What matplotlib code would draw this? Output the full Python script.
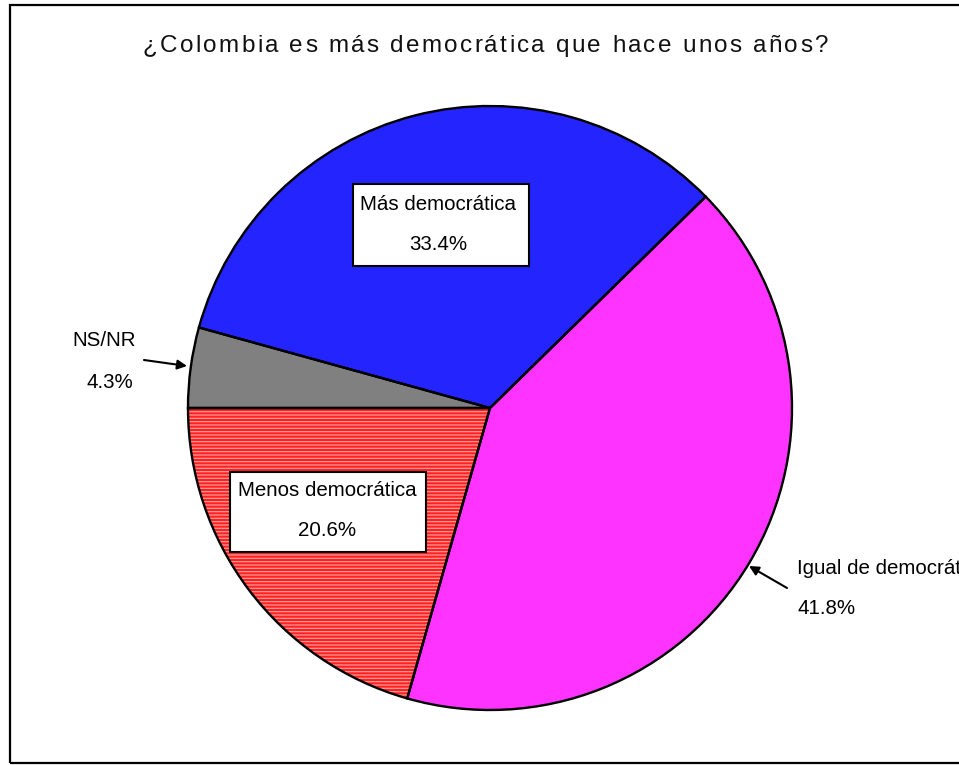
import matplotlib
matplotlib.use("Agg")
import matplotlib.pyplot as plt
from matplotlib.patches import Rectangle
from matplotlib import font_manager, ft2font

# datos de la encuesta
etiquetas = ["NS/NR", "Más democrática", "Igual de democrática", "Menos democrática"]
valores = [4.3, 33.4, 41.8, 20.6]
colores = ["#808080", "#2424ff", "#ff33ff", "#ff2020"]
titulo = "¿Colombia es más democrática que hace unos años?"

W, H = 959, 765
plt.rcParams["font.family"] = ["Liberation Sans", "DejaVu Sans"]
plt.rcParams["hatch.linewidth"] = 0.9

fig = plt.figure(figsize=(W / 100, H / 100), dpi=100)
ax = fig.add_axes([0, 0, 1, 1])

def Y(y):
    return H - y

centro = (490, Y(408))
radio = 302

wedges, _ = ax.pie(valores, colors=colores, startangle=180, counterclock=False,
                   center=centro, radius=radio,
                   wedgeprops=dict(linewidth=0, edgecolor="none"))
# rayas horizontales en "Menos democrática"
w = wedges[3]
w.set_edgecolor("#ff9a9a")
w.set_linewidth(0)
w.set_hatch("-----")

# contorno negro
ax.pie(valores, startangle=180, counterclock=False, center=centro, radius=radio,
       wedgeprops=dict(fill=False, edgecolor="black", linewidth=1.7))

ax.set_xlim(0, W)
ax.set_ylim(0, H)
ax.set_aspect("equal")
ax.axis("off")

# marco exterior
ax.add_patch(Rectangle((10, Y(763)), 980, 758, fill=False, edgecolor="black", linewidth=1.6))

# titulo con espaciado entre letras
tam = 17.5
ft = ft2font.FT2Font(font_manager.findfont("Liberation Sans"))
ft.set_size(tam, 100)
avances = [ft.load_char(ord(c)).linearHoriAdvance / 65536 for c in titulo]
x0, x1 = 143, 828
extra = (x1 - x0 - sum(avances)) / (len(titulo) - 1)
x = x0
for c, a in zip(titulo, avances):
    ax.text(x, Y(52), c, fontsize=tam, ha="left", va="baseline", color="#111111")
    x += a + extra

fs = 14.8
# cajas de etiquetas dentro del pie
ax.add_patch(Rectangle((353, Y(266)), 176, 82, facecolor="white", edgecolor="black", linewidth=1.5))
ax.text(438, Y(210), etiquetas[1], fontsize=fs, ha="center", va="baseline")
ax.text(438, Y(250), f"{valores[1]}%", fontsize=fs, ha="center", va="baseline")

ax.add_patch(Rectangle((230, Y(552)), 196, 80, facecolor="white", edgecolor="black", linewidth=1.5))
ax.text(327, Y(496), etiquetas[3], fontsize=fs, ha="center", va="baseline")
ax.text(327, Y(536), f"{valores[3]}%", fontsize=fs, ha="center", va="baseline")

# etiquetas externas con flecha
ax.text(104, Y(346), etiquetas[0], fontsize=fs, ha="center", va="baseline")
ax.text(110, Y(388), f"{valores[0]}%", fontsize=fs, ha="center", va="baseline")
ax.annotate("", xy=(187, Y(366)), xytext=(144, Y(360)),
            arrowprops=dict(arrowstyle="-|>", color="black", lw=1.5,
                            mutation_scale=14, shrinkA=0, shrinkB=0))

ax.text(797, Y(574), etiquetas[2], fontsize=fs, ha="left", va="baseline", clip_on=True)
ax.text(797, Y(614), f"{valores[2]}%", fontsize=fs, ha="left", va="baseline")
ax.annotate("", xy=(749, Y(566)), xytext=(787, Y(588)),
            arrowprops=dict(arrowstyle="-|>", color="black", lw=1.5,
                            mutation_scale=14, shrinkA=0, shrinkB=0))

fig.savefig("out.png", dpi=100)
